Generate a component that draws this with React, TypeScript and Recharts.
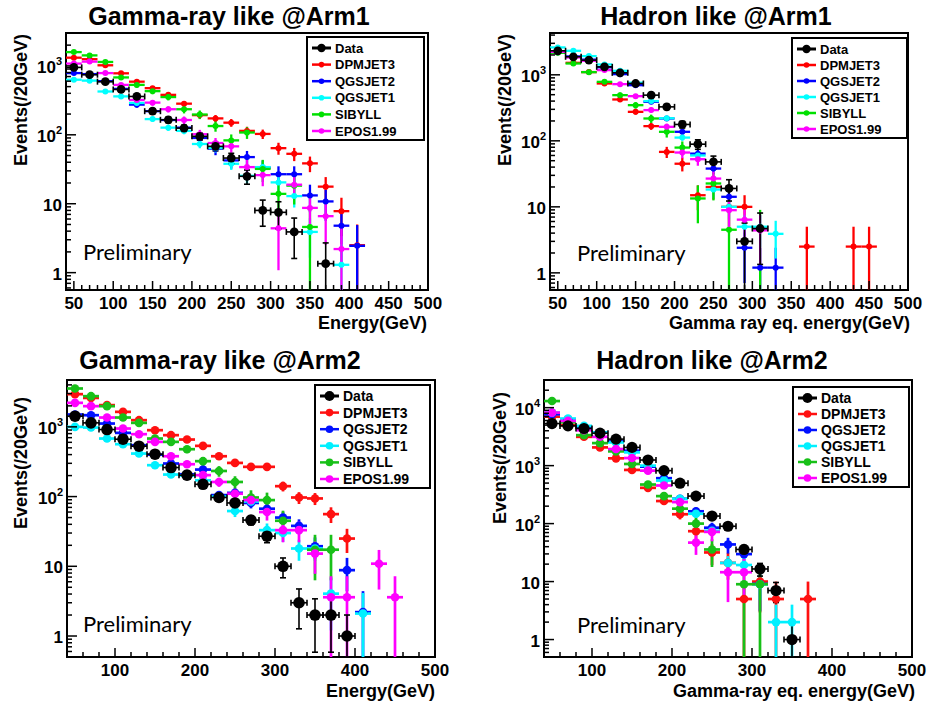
import React from 'react';
import { ScatterChart, Scatter, XAxis, YAxis, ErrorBar, ReferenceArea } from 'recharts';

// bin centres (GeV), each bin is 20 GeV wide
const BINS = [50, 70, 90, 110, 130, 150, 170, 190, 210, 230, 250, 270, 290, 310, 330, 350, 370, 390, 410, 430, 450];
const BIN_HALF_WIDTH = 10;

const SERIES_NAMES = ['Data', 'DPMJET3', 'QGSJET2', 'QGSJET1', 'SIBYLL', 'EPOS1.99'];

// Gamma-ray like @Arm1  (0 = empty bin)
const G1_DATA    = [950, 745, 590, 455, 360, 220, 165, 125, 95, 68, 46, 25, 8, 7.5, 3.9, 0, 1.35, 0, 0, 0, 0];
const G1_DPMJET3 = [1315, 1250, 1020, 780, 590, 475, 380, 283, 193, 173, 150, 114, 103, 64, 53, 38.5, 17.7, 7.8, 2.5, 0, 0];
const G1_QGSJET2 = [786, 760, 600, 464, 274, 220, 164, 127, 90, 63, 42.5, 47.5, 33.4, 26.8, 26.8, 13.2, 10.8, 4.8, 2.45, 0, 0];
const G1_QGSJET1 = [630, 611, 425, 361, 290, 169, 127, 114, 73.6, 64.5, 38, 25.4, 34, 20.4, 12.9, 3.9, 0, 1.3, 0, 0, 0];
const G1_SIBYLL  = [1585, 1420, 1140, 680, 530, 430, 353, 235, 197, 134, 83, 108, 32, 13.9, 18.3, 4.6, 0, 0, 0, 0, 0];
const G1_EPOS    = [1080, 1153, 786, 530, 320, 293, 235, 164, 102, 76, 68, 34, 26, 4.4, 18.9, 8.7, 6.6, 2.2, 0, 0, 0];
// events carried by one entry of each histogram (sets the size of the error bars)
const G1_WEIGHTS = [1.35, 2.5, 2.45, 1.3, 4, 2.5];

// Hadron like @Arm1
const H1_DATA    = [2310, 1875, 1667, 1321, 1072, 739, 492, 327, 177, 89, 48, 19, 3, 4.7, 0, 0, 0, 0, 0, 0, 0];
const H1_DPMJET3 = [2230, 1520, 1100, 739, 423, 275, 167, 68, 45, 15, 20, 10, 10, 0, 0, 0, 2.5, 0, 0, 2.5, 2.5];
const H1_QGSJET2 = [2200, 1900, 1700, 1300, 1024, 697, 390, 218, 137, 64, 38, 14.2, 2.4, 1.2, 1.2, 0, 0, 0, 0, 0, 0];
const H1_QGSJET1 = [2600, 2310, 1920, 1435, 1150, 760, 400, 220, 112, 60, 18.3, 10, 5, 5, 3.9, 0, 0, 0, 0, 0, 0];
const H1_SIBYLL  = [2155, 1485, 1098, 783, 492, 347, 218, 137, 79, 13.4, 22.6, 4.5, 0, 4.5, 0, 0, 0, 0, 0, 0, 0];
const H1_EPOS    = [2230, 1832, 1630, 1178, 722, 475, 292, 163, 66.5, 52.7, 26.8, 8.9, 6.4, 4.4, 0, 0, 0, 0, 0, 0, 0];
const H1_WEIGHTS = [2.4, 2.5, 1.2, 1.3, 4.5, 2.2];

// Gamma-ray like @Arm2
const G2_DATA    = [1422, 1141, 915, 665, 528, 405, 261, 203, 150, 97, 81, 46, 27, 10, 3, 2, 2, 1, 0, 0, 0];
const G2_DPMJET3 = [2944, 2600, 2050, 1641, 1247, 896, 760, 658, 534, 379, 304, 267, 267, 141, 97, 94, 56, 25, 0, 0, 0];
const G2_QGSJET2 = [1503, 1470, 1116, 820, 545, 400, 298, 209, 244, 105, 113, 81, 67, 50, 38, 19.4, 0, 8.8, 2.2, 0, 0];
const G2_QGSJET1 = [1000, 977, 680, 564, 414, 282, 207, 200, 171, 100, 62, 85, 33, 30, 18, 18, 4.05, 0, 2.1, 0, 0];
const G2_SIBYLL  = [3550, 2755, 1981, 1361, 1141, 680, 609, 478, 322, 233, 162, 97, 89, 45, 0, 17.3, 17.3, 0, 0, 0, 0];
const G2_EPOS    = [2210, 1981, 1361, 946, 785, 609, 379, 291, 203, 162, 110, 89, 60, 33, 33, 15.2, 3.6, 3.6, 0, 10.9, 3.6];
const G2_WEIGHTS = [1, 3.6, 2.2, 2, 7, 3.6];

// Hadron like @Arm2
const H2_DATA    = [5320, 4850, 4370, 3632, 2865, 2062, 1250, 820, 498, 298, 135, 90, 35.8, 16.5, 7, 1, 0, 0, 0, 0, 0];
const H2_DPMJET3 = [7000, 5000, 3140, 2062, 1336, 843, 414, 245, 145, 74, 31.8, 21, 5, 10, 5, 0, 5, 0, 0, 0, 0];
const H2_QGSJET2 = [7690, 6310, 4540, 3727, 2613, 1808, 961, 607, 268, 163, 85, 43.7, 29.8, 9.1, 0, 0, 0, 0, 0, 0, 0];
const H2_QGSJET1 = [8210, 6480, 4850, 3727, 2512, 1693, 1000, 553, 268, 148, 75, 21, 19.3, 9, 2, 2, 0, 0, 0, 0, 0];
const H2_SIBYLL  = [13000, 5600, 3356, 2447, 1762, 1068, 472, 298, 181, 100, 35.8, 0, 9, 9, 0, 0, 0, 0, 0, 0, 0];
const H2_EPOS    = [8210, 5910, 4080, 3140, 1932, 1352, 820, 454, 235, 47, 72, 14.5, 14.5, 0, 0, 0, 0, 0, 0, 0, 0];
const H2_WEIGHTS = [1, 5, 4, 2, 9, 7];

// axis labels
const X_LABELS_50  = [50, 100, 150, 200, 250, 300, 350, 400, 450, 500];
const X_LABELS_100 = [100, 200, 300, 400, 500];
const Y_LABELS_3   = [1, 10, 100, 1000];
const Y_LABELS_4   = [1, 10, 100, 1000, 10000];

const X_MIN = 40;
const X_MAX = 500;

const COLORS_TOP    = ['#000000', '#ff0000', '#0000ff', '#00ffff', '#00e000', '#ff00ff'];
const COLORS_BOTTOM = ['#000000', '#ff1010', '#0010ff', '#00f0ff', '#18c018', '#ff00ff'];

const FONT = '"Liberation Sans", Arial, Helvetica, sans-serif';

type Pt = { e: number; v: number; ex: number; ey: [number, number] };

function toPoints(vals: number[], w: number, ymin: number): Pt[] {
  const pts: Pt[] = [];
  vals.forEach((v, i) => {
    if (!v) return;
    const err = Math.sqrt(w * v);
    const lo = Math.max(v - err, ymin);
    pts.push({ e: BINS[i], v, ex: BIN_HALF_WIDTH, ey: [v - lo, err] });
  });
  return pts;
}

function logMinorTicks(min: number, max: number) {
  const out: number[] = [];
  for (let d = 0.1; d <= 100000; d *= 10) {
    for (let k = 1; k <= 9; k++) {
      const v = +(d * k).toPrecision(6);
      if (v >= min && v <= max) out.push(v);
    }
  }
  return out;
}

interface PanelCfg {
  id: string;
  box: { x: number; y: number; w: number; h: number };
  frame: { l: number; r: number; t: number; b: number };
  yDomain: [number, number];
  xLabels: number[];
  xStep: number;
  yLabels: number[];
  values: number[][];
  weights: number[];
  colors: string[];
  dataR: number;
  mcR: number;
  lineW: number;
}

const PANELS: PanelCfg[] = [
  {
    id: 'g1', box: { x: 0, y: 0, w: 460, h: 345 }, frame: { l: 66, r: 428, t: 33, b: 290 },
    yDomain: [0.56, 3000], xLabels: X_LABELS_50, xStep: 10, yLabels: Y_LABELS_3,
    values: [G1_DATA, G1_DPMJET3, G1_QGSJET2, G1_QGSJET1, G1_SIBYLL, G1_EPOS], weights: G1_WEIGHTS,
    colors: COLORS_TOP, dataR: 4.4, mcR: 3, lineW: 2.3,
  },
  {
    id: 'h1', box: { x: 465, y: 0, w: 466, h: 345 }, frame: { l: 550, r: 908, t: 33, b: 290 },
    yDomain: [0.55, 4300], xLabels: X_LABELS_50, xStep: 10, yLabels: Y_LABELS_3,
    values: [H1_DATA, H1_DPMJET3, H1_QGSJET2, H1_QGSJET1, H1_SIBYLL, H1_EPOS], weights: H1_WEIGHTS,
    colors: COLORS_TOP, dataR: 4.4, mcR: 3, lineW: 2.3,
  },
  {
    id: 'g2', box: { x: 0, y: 345, w: 460, h: 362 }, frame: { l: 67, r: 435, t: 380, b: 657 },
    yDomain: [0.5, 4700], xLabels: X_LABELS_100, xStep: 20, yLabels: Y_LABELS_3,
    values: [G2_DATA, G2_DPMJET3, G2_QGSJET2, G2_QGSJET1, G2_SIBYLL, G2_EPOS], weights: G2_WEIGHTS,
    colors: COLORS_BOTTOM, dataR: 5.8, mcR: 4.3, lineW: 2.7,
  },
  {
    id: 'h2', box: { x: 465, y: 345, w: 466, h: 362 }, frame: { l: 544, r: 912, t: 380, b: 657 },
    yDomain: [0.5, 30000], xLabels: X_LABELS_100, xStep: 20, yLabels: Y_LABELS_4,
    values: [H2_DATA, H2_DPMJET3, H2_QGSJET2, H2_QGSJET1, H2_SIBYLL, H2_EPOS], weights: H2_WEIGHTS,
    colors: COLORS_BOTTOM, dataR: 5.6, mcR: 4.3, lineW: 2.7,
  },
];

// draw MC first, Data on top
const DRAW_ORDER = [1, 2, 3, 4, 5, 0];

function Panel({ cfg }: { cfg: PanelCfg }) {
  const { box, frame, yDomain } = cfg;
  const margin = { top: frame.t - box.y, right: box.x + box.w - frame.r, bottom: 0, left: 0 };
  const yAxisW = frame.l - box.x;
  const xAxisH = box.y + box.h - frame.b;

  const xTicks: number[] = [];
  for (let v = X_MIN + cfg.xStep; v <= X_MAX; v += cfg.xStep) xTicks.push(v);
  const yTicks = logMinorTicks(yDomain[0], yDomain[1]);

  const xTick = (p: any) => {
    const v = p.payload.value;
    const major = cfg.xLabels.includes(v);
    return (
      <g>
        <line x1={p.x} x2={p.x} y1={p.y} y2={p.y - (major ? 9 : 5)} stroke="#000" strokeWidth={1.5} />
        {major && (
          <text x={p.x} y={p.y + 19} textAnchor="middle" fontSize={17} fontWeight="bold" fontFamily={FONT} fill="#000">
            {v}
          </text>
        )}
      </g>
    );
  };

  const yTick = (p: any) => {
    const v = p.payload.value;
    const major = cfg.yLabels.includes(v);
    const exp = Math.round(Math.log10(v));
    return (
      <g>
        <line x1={p.x} x2={p.x + (major ? 10 : 5)} y1={p.y} y2={p.y} stroke="#000" strokeWidth={1.5} />
        {major && (
          <text x={p.x - 4} y={p.y + 7} textAnchor="end" fontSize={17} fontWeight="bold" fontFamily={FONT} fill="#000">
            {exp < 2 ? (
              String(v)
            ) : (
              <>
                <tspan>10</tspan>
                <tspan dy={-8} fontSize={11}>{exp}</tspan>
              </>
            )}
          </text>
        )}
      </g>
    );
  };

  return (
    <div style={{ position: 'absolute', left: box.x, top: box.y }}>
      <ScatterChart width={box.w} height={box.h} margin={margin}>
        <XAxis
          type="number"
          dataKey="e"
          domain={[X_MIN, X_MAX]}
          allowDataOverflow
          ticks={xTicks}
          interval={0}
          height={xAxisH}
          tickSize={0}
          tickMargin={0}
          axisLine={false}
          tickLine={false}
          tick={xTick}
        />
        <YAxis
          type="number"
          dataKey="v"
          scale="log"
          domain={yDomain}
          allowDataOverflow
          ticks={yTicks}
          interval={0}
          width={yAxisW}
          tickSize={0}
          tickMargin={0}
          axisLine={false}
          tickLine={false}
          tick={yTick}
        />
        {DRAW_ORDER.map((si) => {
          const color = cfg.colors[si];
          const isData = si === 0;
          const r = isData ? cfg.dataR : cfg.mcR;
          return (
            <Scatter
              key={SERIES_NAMES[si]}
              name={SERIES_NAMES[si]}
              data={toPoints(cfg.values[si], cfg.weights[si], yDomain[0])}
              fill={color}
              isAnimationActive={false}
              shape={(p: any) => <circle cx={p.cx} cy={p.cy} r={r} fill={color} />}
            >
              <ErrorBar dataKey="ex" direction="x" width={isData ? 3 : 0} stroke={color} strokeWidth={isData ? 1.6 : cfg.lineW} />
              <ErrorBar dataKey="ey" direction="y" width={isData ? 3 : 0} stroke={color} strokeWidth={isData ? 1.6 : cfg.lineW} />
            </Scatter>
          );
        })}
        <ReferenceArea x1={X_MIN} x2={X_MAX} y1={yDomain[0]} y2={yDomain[1]} fill="none" stroke="#000" strokeWidth={2} ifOverflow="visible" />
      </ScatterChart>
    </div>
  );
}

const TITLES = [
  { text: 'Gamma-ray like @Arm1', x: 229, y: 25 },
  { text: 'Hadron like @Arm1', x: 716, y: 25 },
  { text: 'Gamma-ray like @Arm2', x: 220, y: 369 },
  { text: 'Hadron like @Arm2', x: 712, y: 369 },
];

const X_TITLES = [
  { text: 'Energy(GeV)', x: 427, y: 329 },
  { text: 'Gamma ray eq. energy(GeV)', x: 910, y: 329 },
  { text: 'Energy(GeV)', x: 435, y: 697 },
  { text: 'Gamma-ray eq. energy(GeV)', x: 915, y: 697 },
];

const Y_TITLES = [
  { x: 27, y: 100 },
  { x: 511, y: 100 },
  { x: 27, y: 463 },
  { x: 506, y: 458 },
];

const PRELIM = [
  { x: 83, y: 260 },
  { x: 577, y: 261 },
  { x: 83, y: 632 },
  { x: 577, y: 633 },
];

const LEGENDS = [
  { x: 307, y: 37, w: 117, h: 103, fs: 13, colors: COLORS_TOP, dataR: 4.2, mcR: 2.8 },
  { x: 792, y: 38, w: 115, h: 100, fs: 13, colors: COLORS_TOP, dataR: 4.2, mcR: 2.8 },
  { x: 315, y: 385, w: 115, h: 103, fs: 14, colors: COLORS_BOTTOM, dataR: 5, mcR: 3.8 },
  { x: 793, y: 387, w: 116, h: 100, fs: 14, colors: COLORS_BOTTOM, dataR: 5, mcR: 3.8 },
];

function Overlay() {
  return (
    <svg width={931} height={707} style={{ position: 'absolute', left: 0, top: 0, pointerEvents: 'none' }}>
      {TITLES.map((t) => (
        <text key={t.text + t.y} x={t.x} y={t.y} textAnchor="middle" fontSize={25} fontWeight="bold" fontFamily={FONT}>
          {t.text}
        </text>
      ))}
      {X_TITLES.map((t) => (
        <text key={t.text + t.y} x={t.x} y={t.y} textAnchor="end" fontSize={18} fontWeight="bold" fontFamily={FONT}>
          {t.text}
        </text>
      ))}
      {Y_TITLES.map((t, i) => (
        <text
          key={'yt' + i}
          x={t.x}
          y={t.y}
          textAnchor="middle"
          fontSize={18}
          fontWeight="bold"
          fontFamily={FONT}
          transform={`rotate(-90 ${t.x} ${t.y})`}
        >
          Events(/20GeV)
        </text>
      ))}
      {PRELIM.map((t, i) => (
        <text key={'pr' + i} x={t.x} y={t.y} fontSize={22} fontFamily="Lato, 'Open Sans', sans-serif" fill="#000">
          Preliminary
        </text>
      ))}
      {LEGENDS.map((lg, li) => {
        const step = (lg.h - 20) / 5;
        return (
          <g key={'lg' + li}>
            <rect x={lg.x} y={lg.y} width={lg.w} height={lg.h} fill="#fff" stroke="#000" strokeWidth={2} />
            {SERIES_NAMES.map((name, i) => {
              const ry = lg.y + 11 + i * step;
              const c = lg.colors[i];
              return (
                <g key={name}>
                  <line x1={lg.x + 5} x2={lg.x + 24} y1={ry} y2={ry} stroke={c} strokeWidth={i === 0 ? 3 : 2.5} />
                  <circle cx={lg.x + 14.5} cy={ry} r={i === 0 ? lg.dataR : lg.mcR} fill={c} />
                  <text x={lg.x + 28} y={ry + lg.fs * 0.36} fontSize={lg.fs} fontWeight="bold" fontFamily={FONT}>
                    {name}
                  </text>
                </g>
              );
            })}
          </g>
        );
      })}
    </svg>
  );
}

export default function App() {
  return (
    <div style={{ position: 'absolute', left: 0, top: 0, width: 931, height: 707, background: '#fff' }}>
      {PANELS.map((p) => (
        <Panel key={p.id} cfg={p} />
      ))}
      <Overlay />
    </div>
  );
}
